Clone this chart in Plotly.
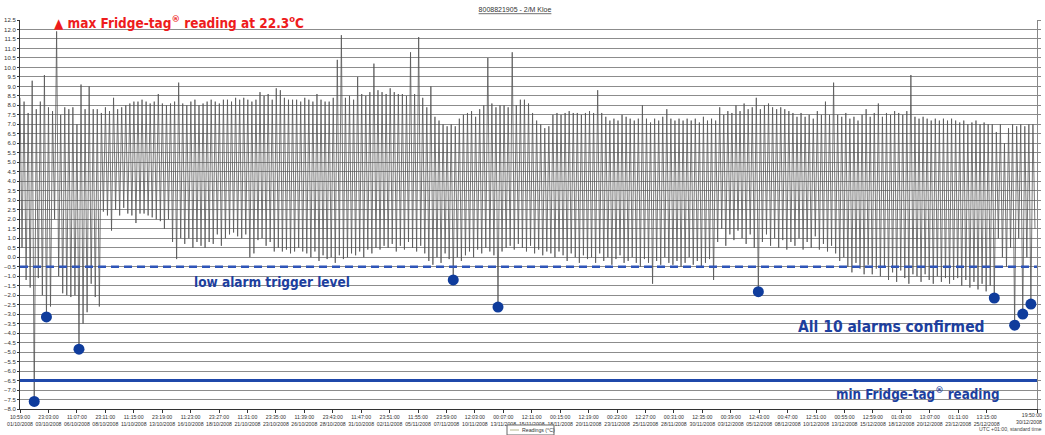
import plotly.graph_objects as go

# ---------------- data ----------------
# peak and trough temperature (°C) of each cooling cycle, left to right
peaks = [
    8.4, 8.2, 7.6, 9.3, 7.8, 8.2, 9.6, 7.9, 7.7, 11.9,
    7.5, 7.9, 7.8, 7.9, 7.0, 9.1, 7.8, 9.0, 7.8, 7.8,
    7.6, 7.9, 7.7, 8.4, 7.8, 7.9, 8.0, 8.1, 8.2, 8.2,
    8.3, 8.2, 8.1, 8.2, 8.6, 8.1, 8.0, 8.1, 8.2, 9.2,
    8.1, 8.0, 8.2, 8.3, 8.0, 8.1, 8.2, 8.3, 8.2, 8.1,
    8.3, 8.3, 8.2, 8.4, 8.3, 8.4, 8.3, 8.2, 8.3, 8.7,
    8.5, 8.6, 8.3, 8.9, 8.8, 8.4, 8.3, 8.3, 8.3, 8.2,
    8.4, 8.3, 8.2, 8.6, 8.3, 8.2, 8.2, 8.4, 10.4, 11.7,
    8.4, 8.5, 8.3, 9.5, 8.6, 8.5, 8.7, 10.2, 8.8, 8.7,
    8.6, 8.9, 8.7, 8.6, 8.6, 8.5, 10.8, 8.6, 11.6, 8.4,
    7.9, 9.0, 7.4, 7.2, 7.0, 6.9, 7.0, 6.9, 7.3, 7.5,
    7.6, 7.7, 7.4, 7.8, 8.0, 10.5, 8.1, 7.9, 8.0, 8.0,
    7.9, 10.8, 8.0, 8.3, 8.3, 8.1, 7.6, 7.2, 7.0, 6.8,
    6.9, 7.5, 7.6, 7.5, 7.6, 7.7, 7.6, 7.6, 7.5, 7.6,
    7.7, 7.6, 8.8, 7.6, 7.4, 7.2, 7.3, 7.2, 7.5, 7.4,
    7.3, 7.2, 7.3, 8.0, 7.3, 7.1, 7.3, 7.2, 7.4, 7.8,
    7.3, 7.2, 7.3, 7.2, 7.3, 7.2, 7.3, 7.1, 7.4, 7.2,
    7.3, 7.2, 7.9, 7.5, 7.7, 7.6, 8.0, 7.7, 8.1, 7.8,
    7.9, 8.4, 7.8, 8.0, 8.1, 7.9, 7.8, 7.9, 7.8, 7.7,
    7.6, 7.4, 7.6, 7.4, 7.5, 7.3, 7.7, 7.5, 8.2, 7.5,
    9.2, 7.5, 7.4, 7.6, 7.3, 7.4, 7.2, 7.5, 7.8, 7.4,
    7.6, 8.1, 7.4, 7.6, 7.5, 7.7, 7.6, 7.5, 7.7, 9.6,
    7.4, 7.3, 7.4, 7.3, 7.2, 7.3, 7.2, 7.3, 7.2, 7.3,
    7.2, 7.1, 7.2, 7.0, 7.1, 7.2, 7.0, 7.1, 7.0, 7.0,
    6.6, 7.0, 6.0, 6.8, 7.0, 6.9, 7.0, 6.9, 7.0, 7.0,
]
troughs = [
    0.5, -1.2, -1.6, -7.6, -1.1, -2.0, -3.15, -2.6, 2.0, -1.0,
    -1.9, -2.0, -2.1, -2.0, -4.85, -3.5, -2.9, -1.4, -2.1, -2.6,
    2.4, 2.2, 1.4, 2.5, 2.2, 2.6, 2.3, 2.2, 1.8, 2.3,
    2.3, 2.2, 2.1, 2.0, 1.9, 1.5, 2.0, 0.8, -0.1, 1.0,
    0.7, 1.0, 0.5, 0.8, 0.6, 0.5, 0.8, 0.7, 1.2, 0.6,
    1.0, 1.2, 1.3, 1.1, 1.0, 1.2, 0.0, 0.2, 0.9, 1.0,
    0.6, 0.8, 0.3, 0.5, 0.3, 0.4, 0.2, 0.3, 0.5, 0.3,
    0.2, 0.0, 0.3, -0.2, 0.1, -0.1, 0.0, -0.3, 0.1, -0.1,
    0.0, 0.2, 0.1, 0.3, 0.0, 0.4, 0.2, 0.5, 0.4, 0.6,
    0.5, 0.7, 0.3, 0.6, 0.4, 0.8, 0.5, 0.3, 0.6, 0.2,
    -0.2, -0.4, 0.0, -0.3, 0.2, -0.1, -1.2, 0.0, -0.2, 0.1,
    0.3, 0.0, 0.4, 0.2, 0.5, 0.3, 0.1, -2.63, 0.3, 0.5,
    0.6, 0.4, 0.7, 0.5, 0.3, 0.6, 0.2, 0.4, 0.1, 0.3,
    0.2, 0.0, 0.3, 0.1, -0.2, 0.2, 0.0, -0.3, 0.1, -0.1,
    0.0, -0.3, 0.2, -0.2, 0.0, -0.4, -0.1, 0.1, -0.3, -0.2,
    0.0, -0.3, -0.5, -0.1, -0.3, -1.4, -0.2, -0.4, 0.0, -0.3,
    -0.4, -0.2, -0.5, -0.3, 0.0, -0.4, -0.2, -0.5, -0.3, -0.1,
    -1.2, 0.8, 1.5, 0.6, 1.2, 0.9, 1.4, 1.0, 0.7, 1.2,
    0.5, -1.82, 0.8, 1.2, 0.6, 1.0, 0.5, 0.9, 0.4, 0.8,
    0.6, 1.0, 0.4, 0.8, 0.5, 1.1, 0.4, 0.7, 0.3, 0.6,
    0.2, -0.2, 0.0, -0.5, -0.8, -0.3, -0.6, -0.9, -0.4, -0.9,
    -0.6, -1.0, -0.5, -1.2, -0.8, -1.3, -0.7, -1.1, -1.4, -0.9,
    -1.0, -1.3, -0.9, -1.2, -1.4, -1.0, -1.3, -1.1, -1.4, -1.2,
    -1.1, -1.5, -1.2, -1.6, -1.3, -1.7, -1.4, -1.8, -1.5, -2.15,
    1.0, 0.0, -0.5, 0.5, -3.58, 1.0, -3.0, 0.0, -2.47, 1.5,
]
# cycles whose trough set off a low-temperature alarm
alarm_cycles = [3, 6, 14, 106, 117, 181, 239, 244, 246, 248]

low_alarm_level = -0.5
min_reading = -6.5

tick_times = ["10:59:00", "23:03:00", "11:07:00", "23:11:00", "11:15:00", "23:19:00",
              "11:23:00", "23:27:00", "11:31:00", "23:35:00", "11:39:00", "23:43:00",
              "11:47:00", "23:51:00", "11:55:00", "23:59:00", "12:03:00", "00:07:00",
              "12:11:00", "00:15:00", "12:19:00", "00:23:00", "12:27:00", "00:31:00",
              "12:35:00", "00:39:00", "12:43:00", "00:47:00", "12:51:00", "00:55:00",
              "12:59:00", "01:03:00", "13:07:00", "01:11:00", "13:15:00", "19:50:00"]
tick_dates = ["01/10/2008", "03/10/2008", "06/10/2008", "08/10/2008", "11/10/2008", "13/10/2008",
              "16/10/2008", "18/10/2008", "21/10/2008", "23/10/2008", "26/10/2008", "28/10/2008",
              "31/10/2008", "02/11/2008", "05/11/2008", "07/11/2008", "10/11/2008", "13/11/2008",
              "15/11/2008", "18/11/2008", "20/11/2008", "23/11/2008", "25/11/2008", "28/11/2008",
              "30/11/2008", "03/12/2008", "05/12/2008", "08/12/2008", "10/12/2008", "13/12/2008",
              "15/12/2008", "18/12/2008", "20/12/2008", "23/12/2008", "25/12/2008", "30/12/2008"]

title_text = "8008821905 - 2/M Kloe"
series_name = "Readings (°C)"

# ---------------- build ----------------
W, H = 1045, 435
L, R, T, B = 20, 8, 20, 26
PW, PH = W - L - R, H - T - B


def px(xp):
    return (xp - L) / PW


def py(yp):
    return (H - B - yp) / PH


n = len(peaks)
xs, ys = [], []
for i in range(n):
    xs += [i, i + 0.5]
    ys += [peaks[i], troughs[i]]

xmax = n
tick_step = xmax * (28.43 / PW)
tickvals = [k * tick_step for k in range(len(tick_times) - 1)] + [xmax]
ticktext = [f"{t}<br>{d}" for t, d in zip(tick_times[:-1], tick_dates[:-1])] + [""]

fig = go.Figure()
fig.add_trace(go.Scatter(
    x=xs, y=ys, mode="lines", name=series_name, showlegend=False,
    line=dict(color="#555555", width=0.8), hoverinfo="skip"))
fig.add_trace(go.Scatter(
    x=[i + 0.5 for i in alarm_cycles], y=[troughs[i] for i in alarm_cycles],
    mode="markers", marker=dict(color="#0f3c9c", size=11), showlegend=False))
# invisible trace so that the right-hand duplicate axis is drawn
fig.add_trace(go.Scatter(x=[xs[0]], y=[ys[0]], yaxis="y2", mode="markers",
                         marker=dict(opacity=0), showlegend=False, hoverinfo="skip"))

blue = "#1d3f9e"
fig.add_shape(type="line", xref="paper", x0=0, x1=1, yref="y", y0=low_alarm_level, y1=low_alarm_level,
              line=dict(color="#2f55b8", width=2.5, dash="8px,5px"))
fig.add_shape(type="line", xref="paper", x0=0, x1=1, yref="y", y0=min_reading, y1=min_reading,
              line=dict(color="#1f48aa", width=3))

# small legend box under the axis (drawn by hand so it fits the bottom strip)
fig.add_shape(type="rect", xref="paper", yref="paper", x0=px(507), x1=px(554), y0=py(435), y1=py(425),
              line=dict(color="#666", width=1), fillcolor="white")
fig.add_shape(type="line", xref="paper", yref="paper", x0=px(510), x1=px(519), y0=py(430), y1=py(430),
              line=dict(color="#b5b58a", width=1))
fig.add_annotation(xref="paper", yref="paper", x=px(520), y=py(430), xanchor="left", yanchor="middle",
                   text=series_name, showarrow=False,
                   font=dict(family="Liberation Sans, Arial", size=5.2, color="#333"))

font_big = "Liberation Sans Narrow, DejaVu Sans Condensed, Arial Narrow, Liberation Sans, Arial"
fig.add_annotation(xref="paper", yref="paper", x=px(52), y=py(22), xanchor="left", yanchor="middle",
                   text="<b>▲ max Fridge-tag<sup>®</sup> reading at 22.3<sup>o</sup>C</b>", showarrow=False,
                   font=dict(family=font_big, size=13.5, color="#ee1c1c"))
fig.add_annotation(xref="paper", yref="paper", x=px(192), y=py(282), xanchor="left", yanchor="middle",
                   text="<b>low alarm trigger level</b>", showarrow=False,
                   font=dict(family=font_big, size=13.5, color=blue))
fig.add_annotation(xref="paper", yref="paper", x=px(796), y=py(327), xanchor="left", yanchor="middle",
                   text="<b>All 10 alarms confirmed</b>", showarrow=False,
                   font=dict(family=font_big, size=15.5, color=blue))
fig.add_annotation(xref="paper", yref="paper", x=px(834), y=py(393), xanchor="left", yanchor="middle",
                   text="<b>min Fridge-tag<sup>®</sup> reading</b>", showarrow=False,
                   font=dict(family=font_big, size=13.3, color=blue))
# last time stamp, right aligned at the edge of the page
fig.add_annotation(xref="paper", yref="paper", x=px(1044), y=py(410), xanchor="right", yanchor="top",
                   text=f"{tick_times[-1]}<br>{tick_dates[-1]}", showarrow=False, align="right",
                   font=dict(family="Liberation Sans, Arial", size=5.2, color="#333"))
fig.add_annotation(xref="paper", yref="paper", x=px(1044), y=py(429), xanchor="right", yanchor="middle",
                   text="UTC +01:00, standard time", showarrow=False,
                   font=dict(family="Liberation Sans, Arial", size=5.2, color="#444"))

small = dict(family="Liberation Sans, Arial", size=6, color="#333")
fig.update_layout(
    width=W, height=H, margin=dict(l=L, r=R, t=T, b=B, autoexpand=False),
    paper_bgcolor="white", plot_bgcolor="white", showlegend=False,
    title=dict(text=f"<u>{title_text}</u>", x=px(515), xref="paper", xanchor="center",
               y=1 - 10 / H, yref="container", yanchor="middle",
               font=dict(family="Liberation Sans, Arial", size=7, color="#333")),
    xaxis=dict(range=[0, xmax], tickvals=tickvals, ticktext=ticktext, tickangle=0,
               showgrid=False, zeroline=False, showline=True, linecolor="#333", linewidth=1,
               ticks="outside", ticklen=3, tickcolor="#333", tickfont=dict(small, size=5.2),
               automargin=False),
    yaxis=dict(range=[-8.0, 12.5], dtick=0.5, tick0=0, tickformat=".1f",
               showgrid=True, gridcolor="#8c8c8c", gridwidth=1, zeroline=False,
               showline=True, linecolor="#333", linewidth=1, ticks="outside", ticklen=2,
               tickcolor="#333", tickfont=small, automargin=False),
    yaxis2=dict(range=[-8.0, 12.5], dtick=0.5, tick0=0, overlaying="y",
                side="right", showgrid=False, zeroline=False, showline=True, linecolor="#888",
                ticks="outside", ticklen=3, tickcolor="#888", showticklabels=False, automargin=False),
)

fig.write_html("out.html")
